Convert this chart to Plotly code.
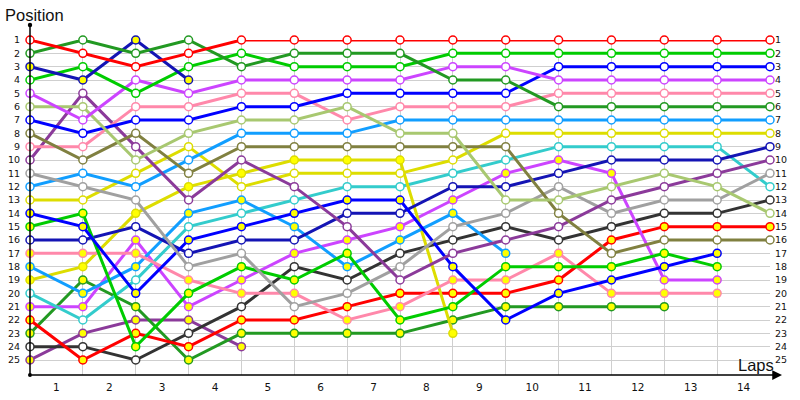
import plotly.graph_objects as go

# ---- data (positions per lap, lap 0 = start) ----
laps = list(range(15))
lap_labels = [str(i) for i in range(1, 15)]
positions = list(range(1, 26))

red_w = [1, 2, 3, 2, 1, 1, 1, 1, 1, 1, 1, 1, 1, 1, 1]
fgreen_w = [2, 1, 2, 1, 3, 2, 2, 2, 4, 4, 6, 6, 6, 6, 6]
dblue_y = [3, 4, 1, 4]
green_w = [4, 3, 5, 3, 2, 3, 3, 3, 2, 2, 2, 2, 2, 2, 2]
violet_w = [5, 7, 4, 5, 4, 4, 4, 4, 3, 3, 4, 4, 4, 4, 4]
lolive_w = [6, 6, 10, 8, 7, 7, 6, 8, 8, 13, 13, 12, 11, 12, 14]
blue_w = [7, 8, 7, 7, 6, 6, 5, 5, 5, 5, 3, 3, 3, 3, 3]
olive_w = [8, 10, 8, 11, 9, 9, 9, 9, 9, 9, 14, 17, 16, 16, 16]
pink_w = [9, 9, 6, 6, 5, 5, 7, 6, 6, 6, 5, 5, 5, 5, 5]
purple_w = [10, 5, 9, 13, 10, 12, 15, 19, 17, 16, 15, 13, 12, 11, 10]
gray_w = [11, 12, 13, 18, 17, 21, 20, 18, 15, 14, 12, 14, 13, 13, 11]
sky_w = [12, 11, 12, 10, 8, 8, 8, 7, 7, 7, 7, 7, 7, 7, 7]
yellow_w = [13, 13, 11, 9, 12, 11, 11, 11, 10, 8, 8, 8, 8, 8, 8]
blue_y = [14, 15, 20, 16, 15, 14, 13, 13, 18, 22, 20, 19, 18, 17]
green_y = [15, 14, 24, 20, 18, 19, 17, 22, 21, 18, 18, 18, 17, 18]
dblue_w = [16, 16, 15, 17, 16, 16, 14, 14, 12, 12, 11, 10, 10, 10, 9]
pink_y = [17, 17, 17, 19, 20, 20, 22, 21, 19, 19, 17, 20, 20, 20]
sky_y = [18, 20, 18, 14, 13, 15, 18, 16, 14, 17]
yellow_y = [19, 18, 14, 12, 11, 10, 10, 10, 23]
turq_w = [20, 22, 19, 15, 14, 13, 12, 12, 11, 10, 9, 9, 9, 9, 12]
violet_y = [21, 21, 16, 21, 19, 17, 16, 15, 13, 11, 10, 11, 19, 19]
red_y = [22, 25, 23, 24, 22, 22, 21, 20, 20, 20, 19, 16, 15, 15, 15]
fgreen_y = [23, 19, 21, 25, 23, 23, 23, 23, 22, 21, 21, 21, 21]
dgray_w = [24, 24, 25, 23, 21, 18, 19, 17, 16, 15, 16, 15, 14, 14, 13]
purple_y = [25, 23, 22, 22, 24]

# ---- styles ----
C = {
    "red": "#ff0000", "fgreen": "#229922", "dblue": "#1414b4", "green": "#00cc00",
    "violet": "#cc44ff", "lolive": "#a8c870", "blue": "#0000ff", "olive": "#808040",
    "pink": "#ff88aa", "purple": "#8b3a9a", "gray": "#a0a0a0", "sky": "#119eff",
    "yellow": "#dddd00", "turq": "#33cccc", "dgray": "#333333",
}
W, Y = "#ffffff", "#ffff00"

series = [
    (red_w, "red", W), (fgreen_w, "fgreen", W), (dblue_y, "dblue", Y),
    (green_w, "green", W), (violet_w, "violet", W), (lolive_w, "lolive", W),
    (blue_w, "blue", W), (olive_w, "olive", W), (pink_w, "pink", W),
    (purple_w, "purple", W), (gray_w, "gray", W), (sky_w, "sky", W),
    (yellow_w, "yellow", W), (blue_y, "blue", Y), (green_y, "green", Y),
    (dblue_w, "dblue", W), (pink_y, "pink", Y), (sky_y, "sky", Y),
    (yellow_y, "yellow", Y), (turq_w, "turq", W), (violet_y, "violet", Y),
    (red_y, "red", Y), (fgreen_y, "fgreen", Y), (dgray_w, "dgray", W),
    (purple_y, "purple", Y),
]

fig = go.Figure()
for vals, cname, fill in reversed(series):
    col = C[cname]
    fig.add_trace(go.Scatter(
        x=laps[:len(vals)], y=vals, mode="lines+markers",
        line=dict(color=col, width=3),
        marker=dict(size=8, color=fill, line=dict(color=col, width=1.5)),
        cliponaxis=False, showlegend=False, hoverinfo="skip",
    ))

# dummy trace for right axis
fig.add_trace(go.Scatter(x=[0], y=[1], yaxis="y2", mode="markers",
                         marker=dict(opacity=0), showlegend=False, hoverinfo="skip"))

tick_font = dict(family="DejaVu Sans", size=9.5, color="#111111")
grid_col = "#cfcfcf"

fig.update_layout(
    width=800, height=400,
    margin=dict(l=30, r=30, t=40, b=25),
    paper_bgcolor="white", plot_bgcolor="white",
    xaxis=dict(
        range=[0, 14], tickmode="array", automargin=False,
        tickvals=[i + 0.5 for i in range(14)], ticktext=lap_labels,
        showgrid=False, zeroline=False, showline=False, ticks="",
        tickfont=dict(family="DejaVu Sans", size=10.5, color="#111111"),
        ticklabelstandoff=4,
        minor=dict(tickmode="array", tickvals=laps, showgrid=True,
                   gridcolor=grid_col, gridwidth=1, ticks=""),
    ),
    yaxis=dict(
        range=[26.125, 1], tickmode="array", tickvals=positions, automargin=False,
        ticktext=[str(p) for p in positions],
        showgrid=True, gridcolor=grid_col, gridwidth=1,
        zeroline=False, showline=False, ticks="",
        tickfont=tick_font, ticklabelstandoff=9,
    ),
    yaxis2=dict(
        range=[26.125, 1], overlaying="y", side="right", tickmode="array",
        tickvals=positions, ticktext=[str(p) for p in positions], automargin=False,
        showgrid=False, zeroline=False, showline=False, ticks="",
        tickfont=tick_font, ticklabelstandoff=4,
    ),
)

top_paper = (375 - 25) / 335.0
fig.add_shape(type="line", xref="paper", yref="paper", x0=0, x1=0, y0=0, y1=top_paper,
              line=dict(color="black", width=1.5))
fig.add_shape(type="circle", xref="paper", yref="paper", xsizemode="pixel", ysizemode="pixel",
              xanchor=0, yanchor=top_paper, x0=-2.2, x1=2.2, y0=-2.2, y1=2.2,
              fillcolor="black", line=dict(color="black", width=0))
fig.add_shape(type="circle", xref="paper", yref="paper", xsizemode="pixel", ysizemode="pixel",
              xanchor=0, yanchor=0, x0=-2, x1=2, y0=-2, y1=2,
              fillcolor="black", line=dict(color="black", width=0))

fig.add_annotation(xref="paper", yref="paper", x=(782 - 30) / 740.0, y=0,
                   ax=-752, ay=0, axref="pixel", ayref="pixel", text="",
                   showarrow=True, arrowhead=2, arrowsize=1.3, arrowwidth=1.5,
                   arrowcolor="black")

fig.add_annotation(xref="paper", yref="paper", x=(3 - 30) / 740.0, y=(375 - 15) / 335.0,
                   xanchor="left", yanchor="middle", text="Position", showarrow=False,
                   font=dict(family="Liberation Sans", size=16.5, color="#111111"))
fig.add_annotation(xref="paper", yref="paper", x=(776 - 30) / 740.0, y=(375 - 365) / 335.0,
                   xanchor="right", yanchor="middle", text="Laps", showarrow=False,
                   font=dict(family="Liberation Sans", size=16.5, color="#111111"))

fig.write_html("out.html", config={"displayModeBar": False},
               post_script="document.body.style.margin='0';")
